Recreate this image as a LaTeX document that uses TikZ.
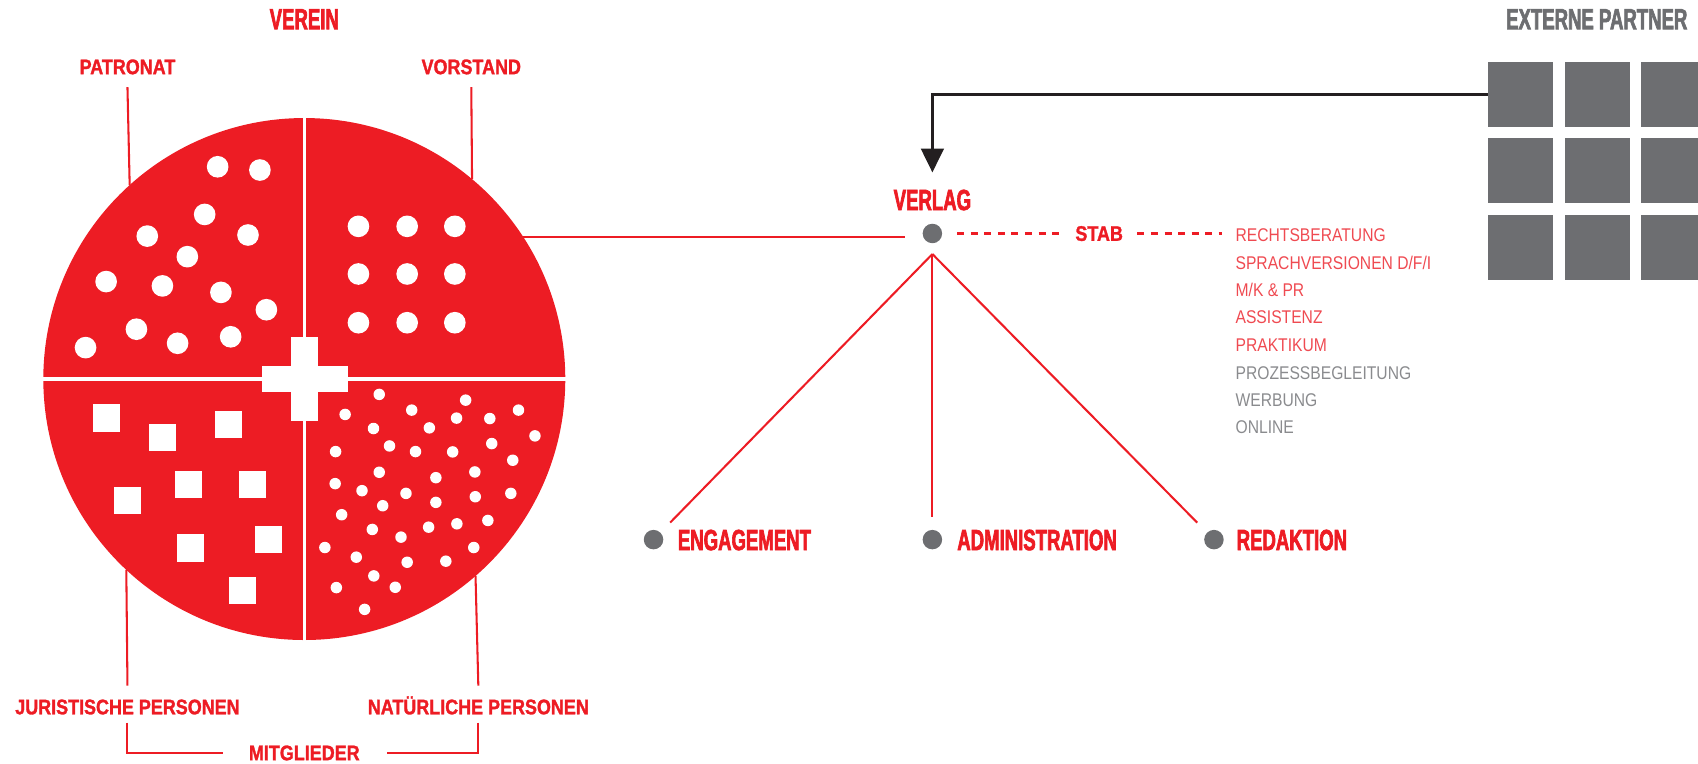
\documentclass[tikz,border=0pt]{standalone}
\usepackage{fontspec}
\setmainfont{Liberation Sans}
\newfontfamily\condfont{Liberation Sans Bold}[FakeStretch=0.635, FakeBold=2.2]
\newfontfamily\midfont{Liberation Sans Bold}[FakeStretch=0.85, FakeBold=1.4]
\newfontfamily\listfont{Liberation Sans}[FakeStretch=0.85]
\usetikzlibrary{arrows.meta}
\definecolor{vred}{HTML}{ED1C24}
\definecolor{vgray}{HTML}{6D6E71}
\definecolor{lred}{HTML}{EF4A51}
\definecolor{lgray}{HTML}{8A8B8E}
\definecolor{vblack}{HTML}{231F20}
\begin{document}
\begin{tikzpicture}[x={(1pt,0pt)}, y={(0pt,-1pt)},
  bigl/.style={font=\condfont\fontsize{27}{27}\selectfont, text=vred, inner sep=0pt, outer sep=0pt, anchor=base, text height=19.3pt, text depth=0pt},
  smalll/.style={font=\midfont\fontsize{19.5}{19.5}\selectfont, text=vred, inner sep=0pt, outer sep=0pt, anchor=base, text height=14pt, text depth=0pt},
  listl/.style={font=\listfont\fontsize{17}{17}\selectfont, inner sep=0pt, outer sep=0pt, anchor=base west, text height=12.2pt, text depth=0pt},
  gdot/.style={circle, fill=vgray, minimum size=18pt, inner sep=0pt, outer sep=0pt},
  epbox/.style={rectangle, fill=vgray, minimum size=60pt, inner sep=0pt, outer sep=0pt},
  rline/.style={draw=vred, line width=1.9pt},
  kline/.style={draw=vblack, line width=2.2pt},
  wsq/.style={fill=white}
]
\useasboundingbox (0,0) rectangle (1568,705);

% circle
\node[circle, fill=vred, minimum size=482pt, inner sep=0pt, outer sep=0pt] (kreis) at (281,350) {};
\draw[white, line width=3pt] (281,105) -- (281,595);
\draw[white, line width=3pt] (36,350) -- (526,350);
\fill[white] (269,311) rectangle (294,389);
\fill[white] (242,338) rectangle (321,362);

% patronat dots
\foreach \p in {(201,154),(240,157),(189,198),(136,218),(229,217),(173,237),(98,260),(150,264),(204,270),(246,286),(126,304),(164,317),(213,311),(79,321)}
  \fill[white] \p circle[radius=10pt];
% vorstand dots
\foreach \xx in {331,376,420}
  \foreach \yy in {209,253,298}
    \fill[white] (\xx,\yy) circle[radius=10pt];
% juristische squares
\foreach \p in {(98.5,386),(150,404),(211,392),(118,462),(174,447),(233,447),(176,506),(248,498),(224,545)}
  \fill[white] \p ++(-12.5,-12.5) rectangle ++(25,25);
% natuerliche dots
\foreach \p in {(350.2,364.2),(318.7,382.7),(380.2,378.7),(430.0,369.5),(478.8,378.7),(344.9,395.7),(396.5,395.1),(421.6,386.1),(452.3,386.5),(494.0,402.5),(309.9,417.0),(359.7,411.8),(383.7,417.0),(418.0,417.3),(454.1,409.6),(473.5,425.0),(350.2,436.1),(402.5,441.1),(438.5,435.8),(309.5,446.6),(334.3,453.1),(374.9,455.6),(353.4,467.0),(402.5,463.9),(438.9,458.7),(471.7,455.6),(315.5,475.3),(343.8,488.9),(370.3,496.0),(395.8,486.8),(421.9,483.7),(450.5,480.6),(300.0,505.6),(329.0,514.5),(376.0,519.2),(411.7,518.2),(437.5,505.6),(345.2,531.8),(365.0,542.3),(310.6,542.6),(336.7,562.7)}
  \fill[white] \p circle[radius=5.3pt];

% labels
\node[bigl] (verein) at (281,27) {VEREIN};
\node[smalll] (patronat) at (117.7,68.5) {PATRONAT};
\node[smalll] (vorstand) at (435.2,68.5) {VORSTAND};
\node[smalll] (jur) at (117.7,659.6) {JURISTISCHE PERSONEN};
\node[smalll] (nat) at (441.7,659.6) {NATÜRLICHE PERSONEN};
\node[smalll] (mitglieder) at (281,702) {MITGLIEDER};

% verlag
\node[gdot] (verlagdot) at (861,215.6) {};
\node[bigl] (verlag) at (861,194) {VERLAG};
\node[smalll] (stab) at (1015,222.4) {STAB};
\node[listl, text=lred] (l1) at (1141,223) {RECHTSBERATUNG};
\node[listl, text=lred] (l2) at (1141,248.5) {SPRACHVERSIONEN D/F/I};
\node[listl, text=lred] (l3) at (1141,274) {M/K \& PR};
\node[listl, text=lred] (l4) at (1141,299) {ASSISTENZ};
\node[listl, text=lred] (l5) at (1141,324.4) {PRAKTIKUM};
\node[listl, text=lgray] (l6) at (1141,350) {PROZESSBEGLEITUNG};
\node[listl, text=lgray] (l7) at (1141,375) {WERBUNG};
\node[listl, text=lgray] (l8) at (1141,400.6) {ONLINE};

\node[gdot] (engdot) at (603.5,498.3) {};
\node[gdot] (admdot) at (861,498.3) {};
\node[gdot] (reddot) at (1121,498.3) {};
\node[bigl, anchor=base west] (eng) at (626,508) {ENGAGEMENT};
\node[bigl, anchor=base west] (adm) at (884,508) {ADMINISTRATION};
\node[bigl, anchor=base west] (red) at (1142,508) {REDAKTION};

% externe partner
\node[bigl, text=vgray] (ext) at (1474.5,27) {EXTERNE PARTNER};
\foreach \c/\xx in {1/1404,2/1475,3/1545}
  \foreach \r/\yy in {1/87.1,2/157.3,3/228.4}
    \node[epbox] (ep\r\c) at (\xx,\yy) {};

% connectors
\draw[rline] ([yshift=-12pt]patronat.south) -- (kreis.132.6);
\draw[rline] ([yshift=-12pt]vorstand.south) -- (kreis.50.2);
\draw[rline] (kreis.227.4) -- ([yshift=12.5pt]jur.north);
\draw[rline] (kreis.311.8) -- ([yshift=12.5pt]nat.north);
\draw[rline] ([yshift=-7.7pt]jur.south) |- ([xshift=-24pt]mitglieder.west);
\draw[rline] ([yshift=-7.7pt]nat.south) |- ([xshift=25pt]mitglieder.east);
\draw[rline, shorten >=16pt] (kreis.33.9) -- (kreis.33.9 -| verlagdot.west);
\draw[rline, dash pattern=on 6.5pt off 6pt, shorten <=14pt, shorten >=12.5pt] (verlagdot.east) -- (verlagdot.east -| stab.west);
\draw[rline, dash pattern=on 6.5pt off 6pt, shorten <=13.4pt, shorten >=13pt] (stab.east |- verlagdot.east) -- (verlagdot.east -| l1.west);
\coordinate (fork) at ([yshift=-19pt]verlagdot.center);
\draw[rline, shorten >=13pt] (fork) -- (engdot);
\draw[rline, shorten >=11.5pt] (fork) -- (admdot);
\draw[rline, shorten >=13pt] (fork) -- (reddot);
\draw[kline, -{Triangle[width=21pt,length=22pt]}, shorten >=15.5pt] (ep11.west) -| (verlag.north);
\end{tikzpicture}
\end{document}
